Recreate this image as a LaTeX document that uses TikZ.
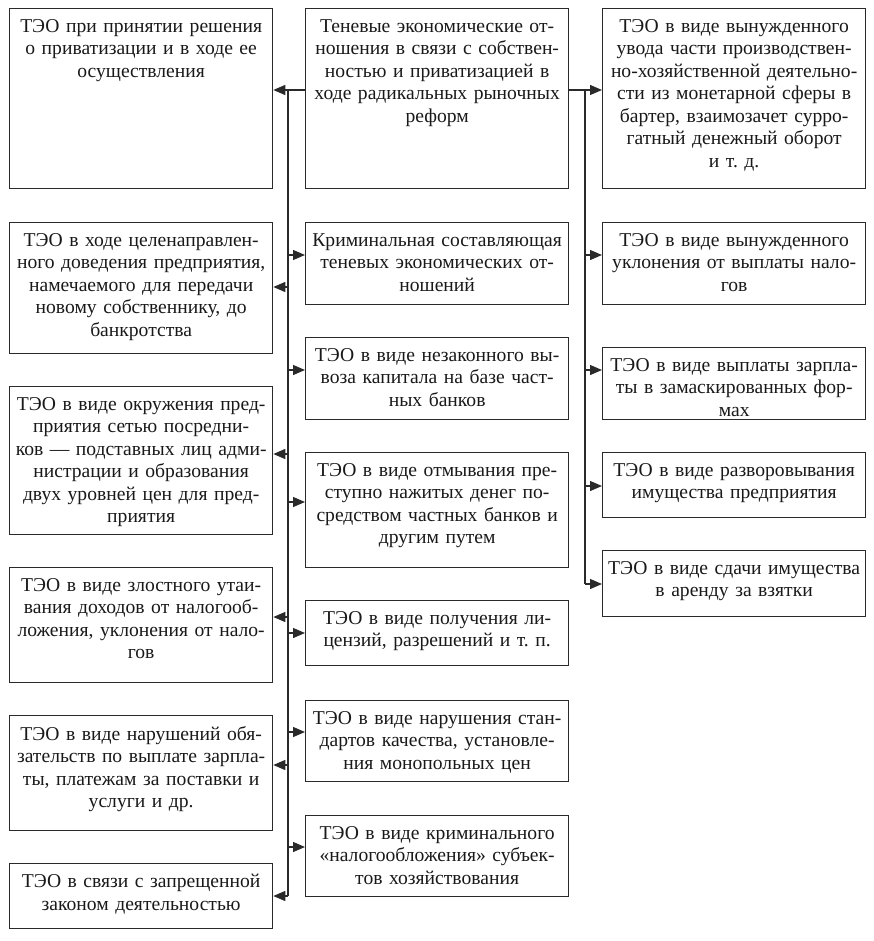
\documentclass[tikz,border=0pt]{standalone}
\usepackage{fontspec}
\setmainfont{Liberation Serif}
\usetikzlibrary{arrows.meta,positioning}
\definecolor{clLine}{HTML}{2A2A2A}
\tikzset{
  box/.style={rectangle, draw=clLine, line width=1.3pt, anchor=north west,
              minimum width=263pt, inner sep=0pt},
  boxtext/.style={anchor=north, align=center, text width=262pt, inner sep=0pt,
                  yshift=-11pt, font=\fontsize{19.6}{22.5}\selectfont, text=black!90},
  trunk/.style={line width=1.3pt, draw=clLine},
  feed/.style={-{Triangle[length=12pt, width=10pt]}, trunk},
}

\begin{document}
\begin{tikzpicture}[x=1pt, y=-1pt]
  \useasboundingbox (0,0) rectangle (873,941);
  % left column
  \node[box, minimum height=180pt, label={[boxtext]north:{ТЭО при принятии решения\\о приватизации и в ходе ее\\осуществления}}] (l1) at (9,8) {};
  \node[box, minimum height=131pt, label={[boxtext]north:{ТЭО в ходе целенаправлен-\\ного доведения предприятия,\\намечаемого для передачи\\новому собственнику, до\\банкротства}}] (l2) at (9,222) {};
  \node[box, minimum height=148pt, label={[boxtext]north:{ТЭО в виде окружения пред-\\приятия сетью посредни-\\ков — подставных лиц адми-\\нистрации и образования\\двух уровней цен для пред-\\приятия}}] (l3) at (9,386) {};
  \node[box, minimum height=115pt, label={[boxtext]north:{ТЭО в виде злостного утаи-\\вания доходов от налогооб-\\ложения, уклонения от нало-\\гов}}] (l4) at (9,567) {};
  \node[box, minimum height=115pt, label={[boxtext]north:{ТЭО в виде нарушений обя-\\зательств по выплате зарпла-\\ты, платежам за поставки и\\услуги и др.}}] (l5) at (9,715) {};
  \node[box, minimum height=65pt, label={[boxtext]north:{ТЭО в связи с запрещенной\\законом деятельностью}}] (l6) at (9,863) {};
  % centre column
  \node[box, minimum height=180pt, label={[boxtext]north:{Теневые экономические от-\\ношения в связи с собствен-\\ностью и приватизацией в\\ходе радикальных рыночных\\реформ}}] (c1) at (305,8) {};
  \node[box, minimum height=82pt, label={[boxtext]north:{Криминальная составляющая\\теневых экономических от-\\ношений}}] (c2) at (305,222) {};
  \node[box, minimum height=82pt, label={[boxtext]north:{ТЭО в виде незаконного вы-\\воза капитала на базе част-\\ных банков}}] (c3) at (305,337) {};
  \node[box, minimum height=115pt, label={[boxtext]north:{ТЭО в виде отмывания пре-\\ступно нажитых денег по-\\средством частных банков и\\другим путем}}] (c4) at (305,452) {};
  \node[box, minimum height=65pt, label={[boxtext]north:{ТЭО в виде получения ли-\\цензий, разрешений и т.~п.}}] (c5) at (305,600) {};
  \node[box, minimum height=81pt, label={[boxtext]north:{ТЭО в виде нарушения стан-\\дартов качества, установле-\\ния монопольных цен}}] (c6) at (305,700) {};
  \node[box, minimum height=81pt, label={[boxtext]north:{ТЭО в виде криминального\\«налогообложения» субъек-\\тов хозяйствования}}] (c7) at (305,815) {};
  % right column
  \node[box, minimum height=180pt, label={[boxtext]north:{ТЭО в виде вынужденного\\увода части производствен-\\но-хозяйственной деятельно-\\сти из монетарной сферы в\\бартер, взаимозачет сурро-\\гатный денежный оборот\\и т.~д.}}] (r1) at (602,8) {};
  \node[box, minimum height=82pt, label={[boxtext]north:{ТЭО в виде вынужденного\\уклонения от выплаты нало-\\гов}}] (r2) at (602,222) {};
  \node[box, minimum height=72pt, label={[boxtext]north:{ТЭО в виде выплаты зарпла-\\ты в замаскированных фор-\\мах}}] (r3) at (602,347) {};
  \node[box, minimum height=65pt, label={[boxtext]north:{ТЭО в виде разворовывания\\имущества предприятия}}] (r4) at (602,452) {};
  \node[box, minimum height=66pt, label={[boxtext]north:{ТЭО в виде сдачи имущества\\в аренду за взятки}}] (r5) at (602,550) {};
  % trunks
  \coordinate (ltop) at (288,90); \coordinate (lbot) at (288,896);
  \coordinate (rtop) at (585,90); \coordinate (rbot) at (585,584);
  \draw[trunk] (ltop) -- (lbot); \draw[trunk] (rtop) -- (rbot);
  \draw[feed] (c1.west |- ltop) -- (l1.east |- ltop);
  \draw[feed] (c1.east |- rtop) -- (r1.west |- rtop);
  \foreach \n/\y in {l2/287, l3/454, l4/617, l5/765, l6/896}
    \draw[feed] (ltop |- 0,\y) -- (\n.east |- 0,\y);
  \foreach \n/\y in {c2/255, c3/370, c4/502, c5/633, c6/732, c7/847}
    \draw[feed] (ltop |- 0,\y) -- (\n.west |- 0,\y);
  \foreach \n/\y in {r2/255, r3/370, r4/486, r5/584}
    \draw[feed] (rtop |- 0,\y) -- (\n.west |- 0,\y);
\end{tikzpicture}
\end{document}
